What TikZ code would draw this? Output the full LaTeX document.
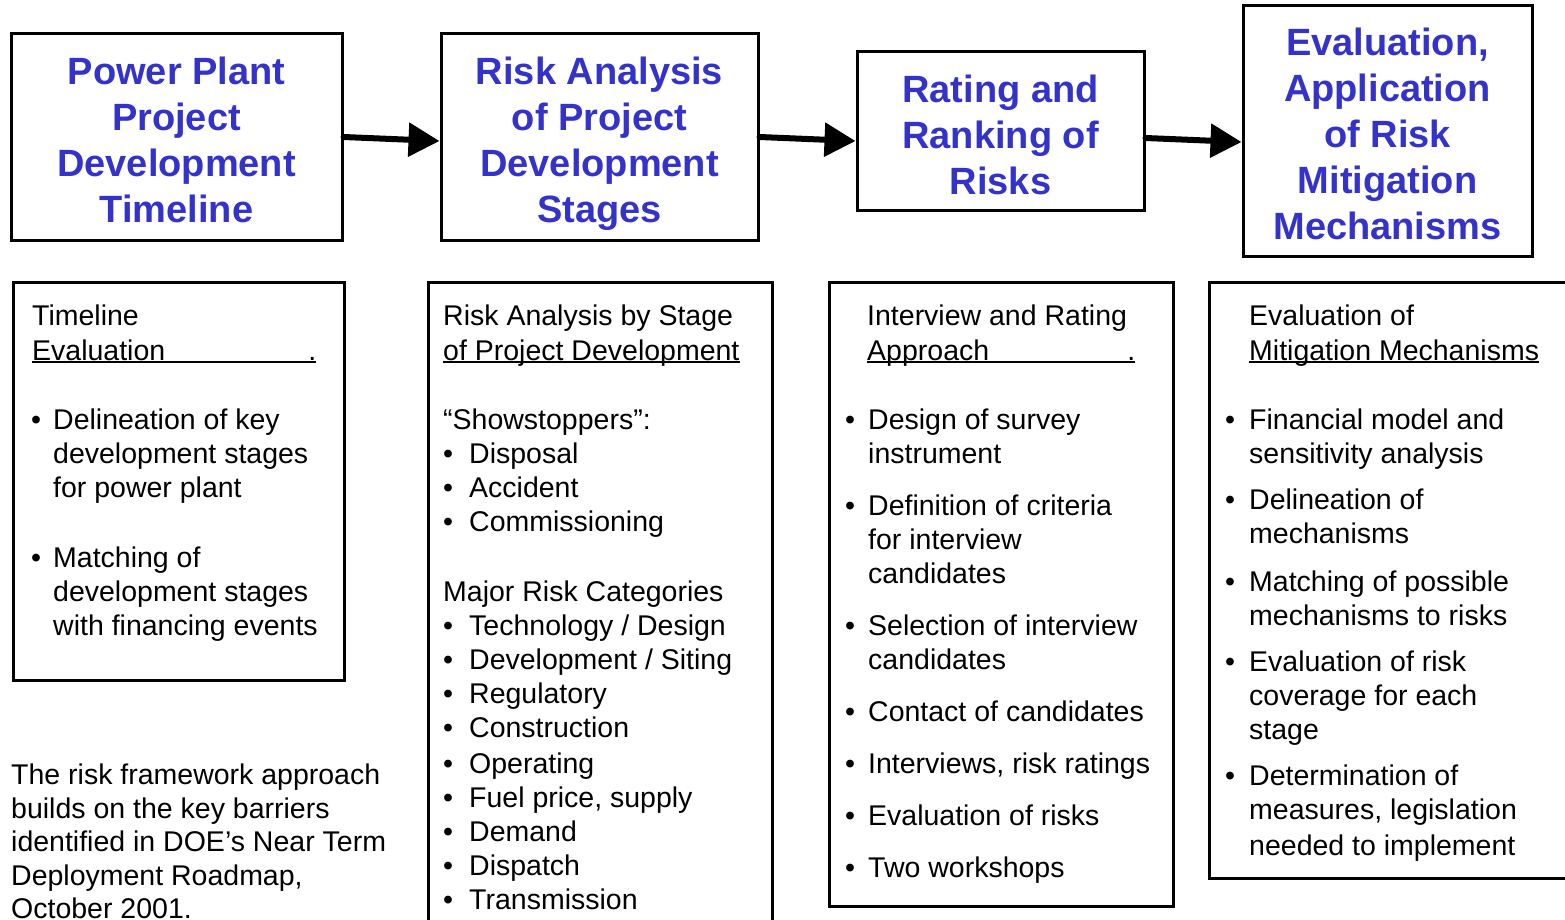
\documentclass[tikz,border=0pt]{standalone}
\usepackage{fontspec}
\setmainfont{Liberation Sans}
\usetikzlibrary{arrows.meta,calc}
\definecolor{titleblue}{RGB}{51,51,204}
% bullet followed by a fixed indent
\newcommand\bul[1]{\makebox[#1][l]{\textbullet}}
\begin{document}
\begin{tikzpicture}[x=1pt,y=-1pt,
  title/.style={draw, line width=3pt, align=center,
    font=\fontsize{38}{46}\selectfont\bfseries, text=titleblue,
    text depth=0pt, inner sep=0pt},
  panel/.style={draw, line width=3pt, inner sep=0pt},
  txt/.style={anchor=base west, inner sep=0pt, font=\fontsize{28.5}{34}\selectfont},
  ul/.style={line width=2pt},
  flow/.style={line width=6pt, line cap=round, -{Triangle[length=31pt,width=33pt]}}]
\useasboundingbox (0,0) rectangle (1565,920);
\clip (0,0) rectangle (1565,920);

% process steps (text height = first line + 46pt per further line)
\node[title, text height=171pt, minimum width=331pt, minimum height=206pt] (t1) at (176.5,137) {Power Plant\\Project\\Development\\Timeline};
\node[title, text height=171pt, minimum width=317pt, minimum height=206pt] (t2) at (599.5,137) {Risk Analysis\\of Project\\Development\\Stages};
\node[title, text height=127pt, minimum width=287pt, minimum height=158pt] (t3) at (1000.5,131) {Rating and\\Ranking of\\Risks};
\node[title, text height=217pt, minimum width=289pt, minimum height=250pt] (t4) at (1387.5,131) {Evaluation,\\Application\\of Risk\\Mitigation\\Mechanisms};

\draw[flow] (t1.east) -- ($(t2.west)+(0,4)$);
\draw[flow] (t2.east) -- ($(t3.west)+(0,10)$);
\draw[flow] ($(t3.east)+(0,7)$) -- ($(t4.west)+(0,11)$);

% detail panels
\node[panel, minimum width=331pt, minimum height=398pt] (pA) at (178.5,481) {};
\node[panel, minimum width=344pt, minimum height=653pt] (pB) at (600,608.5) {};
\node[panel, minimum width=344pt, minimum height=624pt] (pC) at (1001,594) {};
\node[panel, minimum width=371pt, minimum height=596pt] (pD) at (1394.5,580) {};

% panel A
\node[txt] (a1) at (32,325) {Timeline};
\node[txt] (a2) at (32,360) {\makebox[284pt][l]{Evaluation\hfill.}};
\draw[ul] ([yshift=-2pt]a2.base west) -- ([yshift=-2pt]a2.base east);
\node[txt] (a3) at (31,429) {\bul{22pt}Delineation of key};
\node[txt] (a4) at (53,463) {development stages};
\node[txt] (a5) at (53,497) {for power plant};
\node[txt] (a6) at (31,567) {\bul{22pt}Matching of};
\node[txt] (a7) at (53,601) {development stages};
\node[txt] (a8) at (53,635) {with financing events};

% panel B
\node[txt] (b1) at (443,325) {Risk Analysis by Stage};
\node[txt] (b2) at (443,360) {of Project Development};
\draw[ul] ([yshift=-2pt]b2.base west) -- ([yshift=-2pt]b2.base east);
\node[txt] (b3) at (443,429) {“Showstoppers”:};
\node[txt] (b4) at (443,463) {\bul{26pt}Disposal};
\node[txt] (b5) at (443,497) {\bul{26pt}Accident};
\node[txt] (b6) at (443,531) {\bul{26pt}Commissioning};
\node[txt] (b7) at (443,601) {Major Risk Categories};
\node[txt] (b8) at (443,635) {\bul{26pt}Technology / Design};
\node[txt] (b9) at (443,669) {\bul{26pt}Development / Siting};
\node[txt] (b10) at (443,703) {\bul{26pt}Regulatory};
\node[txt] (b11) at (443,737) {\bul{26pt}Construction};
\node[txt] (b12) at (443,773) {\bul{26pt}Operating};
\node[txt] (b13) at (443,807) {\bul{26pt}Fuel price, supply};
\node[txt] (b14) at (443,841) {\bul{26pt}Demand};
\node[txt] (b15) at (443,875) {\bul{26pt}Dispatch};
\node[txt] (b16) at (443,909) {\bul{26pt}Transmission};

% panel C
\node[txt] (c1) at (867,325) {Interview and Rating};
\node[txt] (c2) at (867,360) {\makebox[268pt][l]{Approach\hfill.}};
\draw[ul] ([yshift=-2pt]c2.base west) -- ([yshift=-2pt]c2.base east);
\node[txt] (c3) at (845,429) {\bul{23pt}Design of survey};
\node[txt] (c4) at (868,463) {instrument};
\node[txt] (c5) at (845,515) {\bul{23pt}Definition of criteria};
\node[txt] (c6) at (868,549) {for interview};
\node[txt] (c7) at (868,583) {candidates};
\node[txt] (c8) at (845,635) {\bul{23pt}Selection of interview};
\node[txt] (c9) at (868,669) {candidates};
\node[txt] (c10) at (845,721) {\bul{23pt}Contact of candidates};
\node[txt] (c11) at (845,773) {\bul{23pt}Interviews, risk ratings};
\node[txt] (c12) at (845,825) {\bul{23pt}Evaluation of risks};
\node[txt] (c13) at (845,877) {\bul{23pt}Two workshops};

% panel D
\node[txt] (d1) at (1249,325) {Evaluation of};
\node[txt] (d2) at (1249,360) {Mitigation Mechanisms};
\draw[ul] ([yshift=-2pt]d2.base west) -- ([yshift=-2pt]d2.base east);
\node[txt] (d3) at (1225,429) {\bul{24pt}Financial model and};
\node[txt] (d4) at (1249,463) {sensitivity analysis};
\node[txt] (d5) at (1225,509) {\bul{24pt}Delineation of};
\node[txt] (d6) at (1249,543) {mechanisms};
\node[txt] (d7) at (1225,591) {\bul{24pt}Matching of possible};
\node[txt] (d8) at (1249,625) {mechanisms to risks};
\node[txt] (d9) at (1225,671) {\bul{24pt}Evaluation of risk};
\node[txt] (d10) at (1249,705) {coverage for each};
\node[txt] (d11) at (1249,739) {stage};
\node[txt] (d12) at (1225,785) {\bul{24pt}Determination of};
\node[txt] (d13) at (1249,819) {measures, legislation};
\node[txt] (d14) at (1249,855) {needed to implement};

% note
\node[txt] (n1) at (11,784) {The risk framework approach};
\node[txt] (n2) at (11,818) {builds on the key barriers};
\node[txt] (n3) at (11,851) {identified in DOE’s Near Term};
\node[txt] (n4) at (11,885) {Deployment Roadmap,};
\node[txt] (n5) at (11,918) {October 2001.};
\end{tikzpicture}
\end{document}
